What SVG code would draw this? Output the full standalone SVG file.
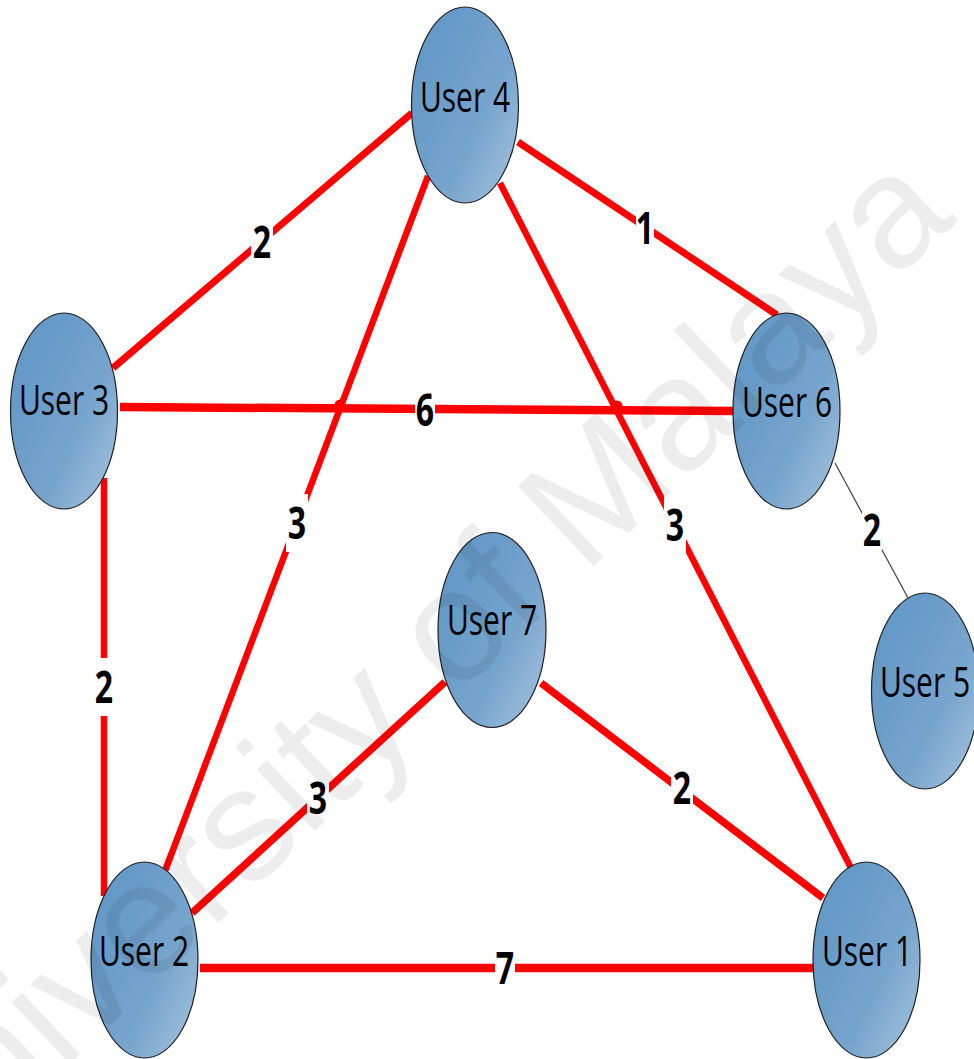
<svg xmlns="http://www.w3.org/2000/svg" width="974" height="1059" viewBox="0 0 974 1059">
  <style>
    .edge { stroke: #ff0000; stroke-linecap: butt; fill: none; }
    .thin { stroke: #404040; stroke-width: 1.2; fill: none; }
    .node ellipse { fill: url(#nodeFill); stroke: #1f1f1f; stroke-width: 1.2; }
    .node text { font-family: "Open Sans", "Liberation Sans", sans-serif; font-size: 30px; fill: #000; text-anchor: middle; }
    .wlabel rect { fill: #ffffff; }
    .wlabel text { font-family: "Open Sans", "Liberation Sans", sans-serif; font-weight: bold; font-size: 32px; fill: #000; text-anchor: middle; }
    .dot { fill: #ff0000; }
    .mark { font-family: "Liberation Sans", "Open Sans", sans-serif; font-size: 160px; fill: #000; fill-opacity: 0.07; text-anchor: middle; }
  </style>
  <defs>
    <linearGradient id="nodeFill" x1="0.15" y1="0.25" x2="0.95" y2="0.95">
      <stop offset="0" stop-color="#6599c7"/>
      <stop offset="0.55" stop-color="#76a4cd"/>
      <stop offset="1" stop-color="#a3c0dc"/>
    </linearGradient>
  </defs>

  <rect x="0" y="0" width="974" height="1059" fill="#ffffff"/>

  <!-- connectors -->
  <g id="connectors">
    <line class="edge" x1="412" y1="113" x2="113" y2="368" stroke-width="7"/>
    <line class="edge" x1="518" y1="142" x2="777" y2="315" stroke-width="7"/>
    <line class="edge" x1="428" y1="176" x2="165" y2="871" stroke-width="6.5"/>
    <line class="edge" x1="500" y1="183" x2="851" y2="868" stroke-width="6.5"/>
    <line class="edge" x1="120" y1="407" x2="733" y2="411" stroke-width="8.5"/>
    <line class="edge" x1="104" y1="478" x2="104" y2="896" stroke-width="6.5"/>
    <line class="thin" x1="835" y1="463" x2="908" y2="598"/>
    <line class="edge" x1="445" y1="682" x2="192" y2="913" stroke-width="7.5"/>
    <line class="edge" x1="541" y1="683" x2="823" y2="898" stroke-width="7.5"/>
    <line class="edge" x1="200" y1="968" x2="813" y2="968" stroke-width="8.5"/>
    <circle class="dot" cx="340" cy="405" r="5.5"/>
    <circle class="dot" cx="617" cy="406" r="5.5"/>

    <!-- edge weights -->
    <g class="wlabel"><rect x="251" y="213" width="22" height="58"/><text transform="translate(262,258) scale(1,1.4)">2</text></g>
    <g class="wlabel"><rect x="636" y="199" width="18" height="58"/><text transform="translate(645,244) scale(1,1.4)">1</text></g>
    <g class="wlabel"><rect x="415" y="381" width="20" height="58"/><text transform="translate(425,426) scale(1,1.4)">6</text></g>
    <g class="wlabel"><rect x="286" y="494" width="22" height="58"/><text transform="translate(297,539) scale(1,1.4)">3</text></g>
    <g class="wlabel"><rect x="664" y="496" width="22" height="58"/><text transform="translate(675,541) scale(1,1.4)">3</text></g>
    <g class="wlabel"><rect x="862" y="510" width="20" height="40"/><text transform="translate(872,546) scale(1,1.4)">2</text></g>
    <g class="wlabel"><rect x="93" y="658" width="22" height="58"/><text transform="translate(104,703) scale(1,1.4)">2</text></g>
    <g class="wlabel"><rect x="307" y="769" width="22" height="58"/><text transform="translate(318,814) scale(1,1.4)">3</text></g>
    <g class="wlabel"><rect x="671" y="759" width="22" height="58"/><text transform="translate(682,804) scale(1,1.4)">2</text></g>
    <g class="wlabel"><rect x="495" y="939" width="20" height="58"/><text transform="translate(505,984) scale(1,1.4)">7</text></g>
  </g>

  <!-- nodes -->
  <g id="user4" class="node"><ellipse cx="465" cy="105" rx="53.5" ry="98"/><text transform="translate(465,112) scale(1,1.4)">User 4</text></g>
  <g id="user3" class="node"><ellipse cx="64" cy="411" rx="53.5" ry="98"/><text transform="translate(64,415) scale(1,1.4)">User 3</text></g>
  <g id="user6" class="node"><ellipse cx="786.5" cy="411" rx="53.5" ry="98"/><text transform="translate(787,417) scale(1,1.4)">User 6</text></g>
  <g id="user5" class="node"><ellipse cx="925" cy="691" rx="53.5" ry="98"/><text transform="translate(925,697) scale(1,1.4)">User 5</text></g>
  <g id="user7" class="node"><ellipse cx="492" cy="630" rx="54" ry="97.5"/><text transform="translate(492,635) scale(1,1.4)">User 7</text></g>
  <g id="user2" class="node"><ellipse cx="144.5" cy="960" rx="53.5" ry="98"/><text transform="translate(144,966) scale(1,1.4)">User 2</text></g>
  <g id="user1" class="node"><ellipse cx="866.5" cy="960" rx="53.5" ry="98"/><text transform="translate(867,966) scale(1,1.4)">User 1</text></g>

  <!-- watermark -->
  <text class="mark" transform="translate(436,716) rotate(-43.5)">University of Malaya</text>
</svg>
